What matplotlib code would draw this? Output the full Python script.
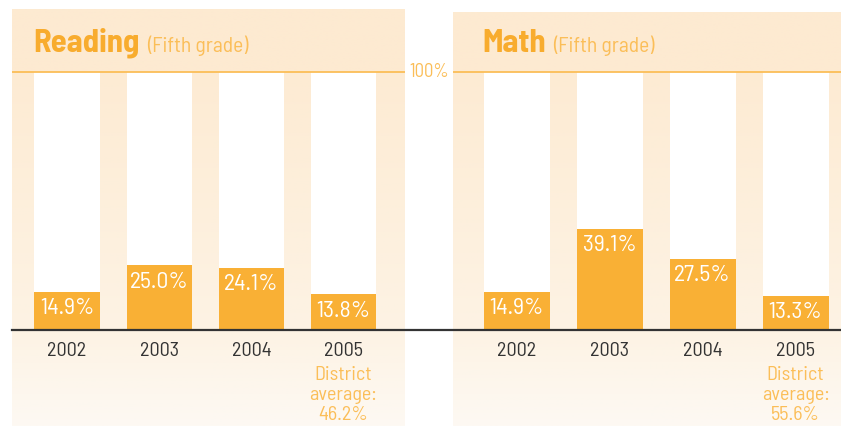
import numpy as np
import matplotlib as mpl
mpl.use('agg')
from matplotlib import pyplot as plt
from matplotlib.colors import to_rgb

plt.rcParams['font.family'] = ['Barlow Semi Condensed', 'DejaVu Sans']

# data
years = ['2002', '2003', '2004', '2005']
reading = [14.9, 25.0, 24.1, 13.8]
math_ = [14.9, 39.1, 27.5, 13.3]
subjects = ['Reading', 'Math']
district_avg = [46.2, 55.6]

ORANGE = '#F9B035'
TITLE = '#F8AC2E'
LIGHT = '#FBBE58'
DARK = '#333333'

W, H = 841, 426
fig = plt.figure(figsize=(W / 100, H / 100), dpi=100)

def px(x0, y0, x1, y1):
    # pixel box -> figure fraction [left, bottom, width, height]
    return [x0 / W, 1 - y1 / H, (x1 - x0) / W, (y1 - y0) / H]

def gradient(ax, xl, yl):
    ys = np.linspace(yl[0], yl[1], 400)
    stops_y = [yl[0], -0.5, 0.5, 100, 100.01, yl[1]]
    stops_c = ['#FDF9F3', '#FDF3E4', '#FDF3E4', '#FDEBD3', '#FDEAD1', '#FDEAD1']
    rgb = np.array([to_rgb(c) for c in stops_c])
    img = np.stack([np.interp(ys, stops_y, rgb[:, k]) for k in range(3)], axis=-1)
    img = img[:, None, :]
    ax.imshow(img, extent=[xl[0], xl[1], yl[0], yl[1]], aspect='auto',
              origin='lower', zorder=0, interpolation='bilinear')

panels = [
    dict(box=(12, 9, 405, 426), xl=(-0.598, 3.668), yl=(-37.2, 124.4), vals=reading),
    dict(box=(453, 12, 841, 426), xl=(-0.683, 3.489), yl=(-37.2, 123.2), vals=math_),
]

x = np.arange(len(years))
axes = []
for i, p in enumerate(panels):
    ax = fig.add_axes(px(*p['box']))
    gradient(ax, p['xl'], p['yl'])
    ax.bar(x, [100] * len(x), width=0.71, color='white', zorder=1)
    ax.bar(x, p['vals'], width=0.71, color=ORANGE, zorder=2)
    ax.axhline(100, color=LIGHT, lw=1.3, zorder=3)
    for xi, v in zip(x, p['vals']):
        ax.annotate('%.1f%%' % v, (xi, v), xytext=(0, -12), textcoords='offset points',
                    ha='center', va='center', color='white', fontsize=17, zorder=4)
    for xi, yr in zip(x, years):
        ax.text(xi, -8, yr, ha='center', va='center', color=DARK, fontsize=14.5)
    ax.text(x[-1], -13.8, 'District\naverage:\n%.1f%%' % district_avg[i], ha='center',
            va='top', color=LIGHT, fontsize=14.5, linespacing=1.17)
    t = ax.text(-0.37, 107.8, subjects[i], color=TITLE, fontsize=23.5,
                fontweight='bold', va='baseline', ha='left')
    fig.canvas.draw()
    bb = t.get_window_extent().transformed(ax.transData.inverted())
    ax.text(bb.x1 + 0.08, 107.8, '(Fifth grade)', color=LIGHT, fontsize=15.5,
            va='baseline', ha='left')
    ax.set_xlim(p['xl'])
    ax.set_ylim(p['yl'])
    ax.axis('off')
    axes.append(ax)

# baseline across both panels
ax = axes[1]
ax.axhline(0, xmin=(12 - 453) / 388, xmax=1, color=DARK, lw=1.6, clip_on=False, zorder=5)

fig.text(429 / W, 1 - 72 / H, '100%', ha='center', va='center', color=LIGHT, fontsize=13.5)

fig.savefig('out.png', dpi=100)
